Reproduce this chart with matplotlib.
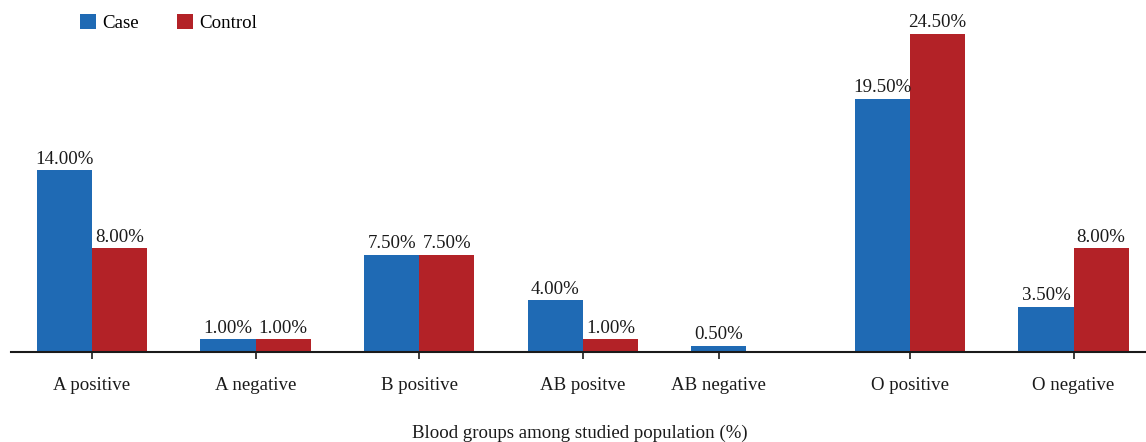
import numpy as np
import matplotlib
matplotlib.use("Agg")
import matplotlib.pyplot as plt
from matplotlib.patches import Patch

categories = ["A positive", "A negative", "B positive", "AB positve",
              "AB negative", "O positive", "O negative"]
case_values = [14.0, 1.0, 7.5, 4.0, 0.5, 19.5, 3.5]
control_values = [8.0, 1.0, 7.5, 1.0, np.nan, 24.5, 8.0]
series_names = ["Case", "Control"]
xlabel_text = "Blood groups among studied population (%)"

blue = "#1f6ab4"
red = "#b32227"
text_color = "#1a1a1a"

plt.rcParams["font.family"] = ["Liberation Serif", "DejaVu Serif"]

W, H = 1146, 442
fig = plt.figure(figsize=(W / 100, H / 100), dpi=100)
ax = fig.add_axes([11 / W, (H - 352) / H, 1 - 11 / W, 352 / H])

x = np.arange(len(categories))
w = 0.337
case = np.array(case_values, dtype=float)
ctrl = np.array(control_values, dtype=float)

case_x = x - w / 2
ctrl_x = x + w / 2
has_ctrl = ~np.isnan(ctrl)

ax.bar(case_x, case, width=w, color=blue, linewidth=0)
ax.bar(ctrl_x[has_ctrl], ctrl[has_ctrl], width=w, color=red, linewidth=0)

fs = 13.6
for xi, v in zip(case_x, case):
    ax.annotate(f"{v:.2f}%", (xi, v), xytext=(0, 1.5), textcoords="offset points",
                ha="center", va="bottom", fontsize=fs, color=text_color)
for xi, v in zip(ctrl_x[has_ctrl], ctrl[has_ctrl]):
    ax.annotate(f"{v:.2f}%", (xi, v), xytext=(0, 1.5), textcoords="offset points",
                ha="center", va="bottom", fontsize=fs, color=text_color)

# tick sits under the group centre, or under the single bar when one is missing
tick_pos = np.where(has_ctrl, x, case_x)
ax.set_xticks(tick_pos)
ax.set_xticklabels(categories, fontsize=fs, color=text_color)
ax.tick_params(axis="x", length=5, width=1.2, pad=13, color=text_color)

ax.set_xlim(-81 / 163.6, -81 / 163.6 + (W - 11) / 163.6)
ax.set_ylim(0, 352 / 13.0)

ax.set_yticks([])
for s in ["top", "right", "left"]:
    ax.spines[s].set_visible(False)
ax.spines["bottom"].set_linewidth(1.5)
ax.spines["bottom"].set_color(text_color)
ax.patch.set_alpha(0)

fig.text(0.5 * (417 + 743) / W, 1 - 433 / H, xlabel_text, ha="center", va="center",
         fontsize=fs, color=text_color)

handles = [Patch(facecolor=blue, edgecolor="none"), Patch(facecolor=red, edgecolor="none")]
fig.legend(handles, series_names, loc="center left", bbox_to_anchor=(80 / W, 1 - 23 / H),
           ncol=2, frameon=False, fontsize=fs, handlelength=0.85, handleheight=0.85,
           handletextpad=0.35, columnspacing=2.0, borderaxespad=0, borderpad=0)

fig.savefig("out.png", dpi=100, facecolor="white")
